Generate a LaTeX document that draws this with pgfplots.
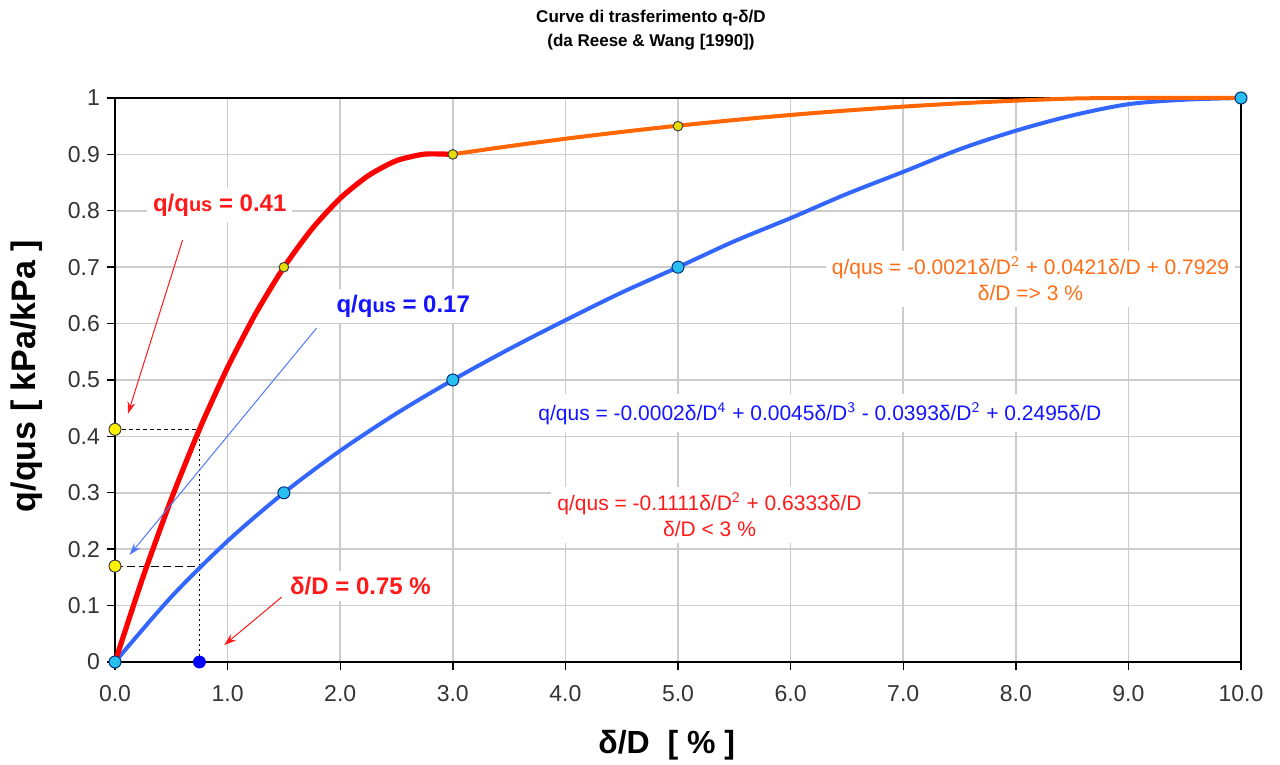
\documentclass[border=0pt]{standalone}
\usepackage{fontspec}
\setmainfont{Liberation Sans}
\usepackage{pgfplots}
\pgfplotsset{compat=1.18}
\usetikzlibrary{arrows.meta}

\definecolor{redL}{RGB}{255,0,0}
\definecolor{orangeL}{RGB}{255,102,0}
\definecolor{blueL}{RGB}{51,102,255}
\definecolor{blueT}{RGB}{20,20,255}
\definecolor{orangeT}{RGB}{255,110,20}
\definecolor{redT}{RGB}{255,25,25}
\definecolor{arrowB}{RGB}{80,120,255}
\definecolor{cmark}{RGB}{40,190,240}
\definecolor{cedge}{RGB}{0,50,120}
\definecolor{ymark}{RGB}{230,220,0}

\begin{document}
\begin{tikzpicture}
\begin{axis}[
    scale only axis, width=563pt, height=282pt,
    xmin=0, xmax=10, ymin=0, ymax=1,
    xtick={0,1,2,3,4,5,6,7,8,9,10},
    xticklabels={0.0,1.0,2.0,3.0,4.0,5.0,6.0,7.0,8.0,9.0,10.0},
    ytick={0,0.1,0.2,0.3,0.4,0.5,0.6,0.7,0.8,0.9,1},
    yticklabels={0,0.1,0.2,0.3,0.4,0.5,0.6,0.7,0.8,0.9,1},
    grid=major, major grid style={gray!40, line width=0.8pt},
    axis line style={black, line width=0.7pt},
    tick align=outside, tick pos=left,
    major tick length=4pt,
    tick style={black, line width=0.7pt},
    ticklabel style={font=\fontsize{11.5}{13}\selectfont, text=black!80},
    xticklabel style={yshift=-4pt},
    clip=false,
]

% linee di riferimento
\addplot[black, line width=0.8pt, dash pattern=on 2pt off 1.5pt] coordinates {(0,0.4125) (0.75,0.4125)};
\addplot[black, line width=0.6pt, dash pattern=on 1pt off 1.5pt] coordinates {(0.75,0.4125) (0.75,0)};
\addplot[black, line width=0.5pt, dash pattern=on 4pt off 2pt] coordinates {(0,0.17) (0.75,0.17)};

% curva blu
\addplot[blueL, line width=2pt, smooth] coordinates {
  (0,0) (0.5,0.1155) (1,0.2145) (1.5,0.3) (2,0.3746) (2.5,0.4407)
  (3,0.5) (3.5,0.5548) (4,0.606) (4.5,0.6551) (5,0.7)
  (5.5,0.746) (6,0.787) (6.5,0.830) (7,0.869) (7.5,0.909)
  (8,0.942) (8.5,0.969) (9,0.989) (9.5,0.997) (10,1)
};
% curva arancio (d/D >= 3 %)
\addplot[orangeL, line width=2pt, smooth] coordinates {
  (3,0.9003) (3.5,0.9145) (4,0.9277) (4.5,0.9398) (5,0.9509)
  (5.5,0.9609) (6,0.9699) (6.5,0.9778) (7,0.9847) (7.5,0.9905)
  (8,0.9953) (8.5,0.999) (9,1) (10,1)
};
% curva rossa (d/D < 3 %)
\addplot[redL, line width=2.6pt, smooth, tension=0.4] coordinates {
  (0,0) (0.25,0.1514) (0.5,0.2889) (0.75,0.4125) (1,0.5222)
  (1.25,0.618) (1.5,0.7) (1.75,0.7681) (2,0.8222) (2.25,0.8624)
  (2.5,0.8889) (2.75,0.9005) (3,0.9)
};

% punti
\addplot[only marks, mark=*, mark size=2.4pt, mark options={fill=ymark, draw=black!75, line width=0.5pt}]
  coordinates {(1.5,0.7) (3,0.9) (5,0.95)};
\addplot[only marks, mark=*, mark size=3pt, mark options={fill=cmark, draw=cedge, line width=0.5pt}]
  coordinates {(0,0) (1.5,0.3) (3,0.5) (5,0.7) (10,1)};
\addplot[only marks, mark=*, mark size=3pt, mark options={fill=yellow, draw=black!75, line width=0.5pt}]
  coordinates {(0,0.4125) (0,0.17)};
\addplot[only marks, mark=*, mark size=3pt, mark options={fill=blue, draw=blue}]
  coordinates {(0.75,0)};

% frecce
\draw[redT, line width=0.5pt, -{Stealth[length=6pt,width=4pt]}] (axis cs:0.6,0.748) -- (axis cs:0.115,0.44);
\draw[arrowB, line width=0.5pt, -{Stealth[length=6pt,width=4pt]}] (axis cs:1.79,0.592) -- (axis cs:0.13,0.19);
\draw[redT, line width=0.5pt, -{Stealth[length=6pt,width=4pt]}] (axis cs:1.48,0.115) -- (axis cs:0.97,0.03);

% etichette
\node[fill=white, inner sep=3pt, text=redT, font=\bfseries\fontsize{12}{14}\selectfont]
  at (axis cs:0.93,0.81) {q/q{\fontsize{10}{12}\selectfont us} = 0.41};
\node[fill=white, inner sep=3pt, text=blueT, font=\bfseries\fontsize{12}{14}\selectfont]
  at (axis cs:2.56,0.631) {q/q{\fontsize{10}{12}\selectfont us} = 0.17};
\node[fill=white, inner sep=3pt, text=redT, font=\bfseries\fontsize{12}{14}\selectfont]
  at (axis cs:2.18,0.135) {δ/D = 0.75 \%};

\node[fill=white, inner sep=3pt, align=center, text=orangeT, font=\fontsize{10.5}{13}\selectfont]
  at (axis cs:8.13,0.679) {q/qus = -0.0021δ/D$^{\mathsf{2}}$ + 0.0421δ/D + 0.7929\\δ/D => 3 \%};
\node[fill=white, inner sep=4pt, text=blueT, font=\fontsize{10.5}{13}\selectfont]
  at (axis cs:6.26,0.441) {q/qus = -0.0002δ/D$^{\mathsf{4}}$ + 0.0045δ/D$^{\mathsf{3}}$ - 0.0393δ/D$^{\mathsf{2}}$ + 0.2495δ/D};
\node[fill=white, inner sep=3pt, align=center, text=redT, font=\fontsize{10.5}{13}\selectfont]
  at (axis cs:5.28,0.261) {q/qus = -0.1111δ/D$^{\mathsf{2}}$ + 0.6333δ/D\\δ/D < 3 \%};

% titolo e assi
\node[align=center, font=\bfseries\fontsize{8.5}{12}\selectfont]
  at ([yshift=34pt]rel axis cs:0.476,1) {Curve di trasferimento q-δ/D\\(da Reese \& Wang [1990])};
\node[rotate=90, font=\bfseries\fontsize{17}{20}\selectfont]
  at ([xshift=-44pt, yshift=2pt]rel axis cs:0,0.5) {q/qus [ kPa/kPa ]};
\node[font=\bfseries\fontsize{16}{19}\selectfont]
  at ([yshift=-41.5pt]rel axis cs:0.49,0) {δ/D\ \ [ \% ]};
\end{axis}
\pgfresetboundingbox
\path (current axis.south west) ++(-57.5pt,-51.5pt) rectangle ++(640pt,382.5pt);
\end{tikzpicture}
\end{document}
